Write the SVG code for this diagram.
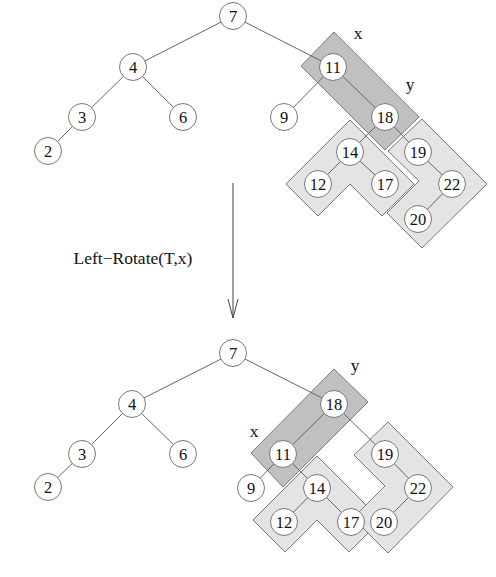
<svg xmlns="http://www.w3.org/2000/svg" width="496" height="577" viewBox="0 0 496 577">
<defs>
<style>
.dark{fill:#c0c0c0;stroke:#7a7a7a;stroke-width:1}
.light{fill:#e4e4e4;stroke:#7a7a7a;stroke-width:1}
.edge{stroke:#666;stroke-width:1;fill:none}
.node circle{fill:#fff;stroke:#777;stroke-width:1}
.node text,.lbl{font-family:"Liberation Serif","Times New Roman",serif;font-size:16.5px;fill:#111;text-anchor:middle}
.big{font-size:17.5px}
</style>
<marker id="arr" markerWidth="22" markerHeight="12" refX="20" refY="6" orient="auto" markerUnits="userSpaceOnUse">
<path d="M1,1 L20,6 L1,11" fill="none" stroke="#444" stroke-width="1"/>
</marker>
</defs>
<rect width="496" height="577" fill="#fff"/>

<g id="shapes">
<polygon class="dark" points="334,32 419,117 385,150 301,66"/>
<polygon class="light" points="350,120 414,184 382,216 350,184 318,216 286,184"/>
<polygon class="light" points="422,119 487,184 422,248 387,213 419,181 388,151"/>
<polygon class="dark" points="334,369 368,402 283,487 251,453"/>
<polygon class="light" points="317,456 381,520 349,552 317,520 285,552 253,520"/>
<polygon class="light" points="388,422 453,487 388,553 353,518 385,486 354,455"/>
</g>

<g id="connectors">
<line class="edge" x1="233" y1="16" x2="133" y2="67"/>
<line class="edge" x1="233" y1="16" x2="333" y2="67"/>
<line class="edge" x1="133" y1="67" x2="82" y2="117"/>
<line class="edge" x1="133" y1="67" x2="183" y2="117"/>
<line class="edge" x1="82" y1="117" x2="48" y2="151"/>
<line class="edge" x1="333" y1="67" x2="284" y2="117"/>
<line class="edge" x1="333" y1="67" x2="385" y2="117"/>
<line class="edge" x1="385" y1="117" x2="350" y2="152"/>
<line class="edge" x1="385" y1="117" x2="418" y2="152"/>
<line class="edge" x1="350" y1="152" x2="318" y2="184"/>
<line class="edge" x1="350" y1="152" x2="385" y2="184"/>
<line class="edge" x1="418" y1="152" x2="452" y2="184"/>
<line class="edge" x1="452" y1="184" x2="418" y2="219"/>

<line class="edge" x1="233" y1="353" x2="132" y2="404"/>
<line class="edge" x1="233" y1="353" x2="334" y2="404"/>
<line class="edge" x1="132" y1="404" x2="82" y2="454"/>
<line class="edge" x1="132" y1="404" x2="183" y2="454"/>
<line class="edge" x1="82" y1="454" x2="48" y2="487"/>
<line class="edge" x1="334" y1="404" x2="283" y2="454"/>
<line class="edge" x1="334" y1="404" x2="385" y2="454"/>
<line class="edge" x1="283" y1="454" x2="251" y2="488"/>
<line class="edge" x1="283" y1="454" x2="317" y2="488"/>
<line class="edge" x1="317" y1="488" x2="284" y2="522"/>
<line class="edge" x1="317" y1="488" x2="351" y2="522"/>
<line class="edge" x1="385" y1="454" x2="418" y2="488"/>
<line class="edge" x1="418" y1="488" x2="384" y2="522"/>

<line x1="233" y1="183" x2="233" y2="318" stroke="#444" stroke-width="1" marker-end="url(#arr)"/>
</g>

<g id="t7"   class="node"><circle cx="233" cy="16" r="13.5"/><text x="233" y="22">7</text></g>
<g id="t4"   class="node"><circle cx="133" cy="67" r="13.5"/><text x="133" y="73">4</text></g>
<g id="t3"   class="node"><circle cx="82" cy="117" r="13.5"/><text x="82" y="123">3</text></g>
<g id="t6"   class="node"><circle cx="183" cy="117" r="13.5"/><text x="183" y="123">6</text></g>
<g id="t2"   class="node"><circle cx="48" cy="151" r="13.5"/><text x="48" y="157">2</text></g>
<g id="t11"  class="node"><circle cx="333" cy="67" r="13.5"/><text x="333" y="73">11</text></g>
<g id="t9"   class="node"><circle cx="284" cy="117" r="13.5"/><text x="284" y="123">9</text></g>
<g id="t18"  class="node"><circle cx="385" cy="117" r="13.5"/><text x="385" y="123">18</text></g>
<g id="t14"  class="node"><circle cx="350" cy="152" r="13.5"/><text x="350" y="158">14</text></g>
<g id="t12"  class="node"><circle cx="318" cy="184" r="13.5"/><text x="318" y="190">12</text></g>
<g id="t17"  class="node"><circle cx="385" cy="184" r="13.5"/><text x="385" y="190">17</text></g>
<g id="t19"  class="node"><circle cx="418" cy="152" r="13.5"/><text x="418" y="158">19</text></g>
<g id="t22"  class="node"><circle cx="452" cy="184" r="13.5"/><text x="452" y="190">22</text></g>
<g id="t20"  class="node"><circle cx="418" cy="219" r="13.5"/><text x="418" y="225">20</text></g>

<g id="b7"   class="node"><circle cx="233" cy="353" r="13.5"/><text x="233" y="359">7</text></g>
<g id="b4"   class="node"><circle cx="132" cy="404" r="13.5"/><text x="132" y="410">4</text></g>
<g id="b3"   class="node"><circle cx="82" cy="454" r="13.5"/><text x="82" y="460">3</text></g>
<g id="b6"   class="node"><circle cx="183" cy="454" r="13.5"/><text x="183" y="460">6</text></g>
<g id="b2"   class="node"><circle cx="48" cy="487" r="13.5"/><text x="48" y="493">2</text></g>
<g id="b18"  class="node"><circle cx="334" cy="404" r="13.5"/><text x="334" y="410">18</text></g>
<g id="b11"  class="node"><circle cx="283" cy="454" r="13.5"/><text x="283" y="460">11</text></g>
<g id="b9"   class="node"><circle cx="251" cy="488" r="13.5"/><text x="251" y="494">9</text></g>
<g id="b14"  class="node"><circle cx="317" cy="488" r="13.5"/><text x="317" y="494">14</text></g>
<g id="b12"  class="node"><circle cx="284" cy="522" r="13.5"/><text x="284" y="528">12</text></g>
<g id="b17"  class="node"><circle cx="351" cy="522" r="13.5"/><text x="351" y="528">17</text></g>
<g id="b19"  class="node"><circle cx="385" cy="454" r="13.5"/><text x="385" y="460">19</text></g>
<g id="b22"  class="node"><circle cx="418" cy="488" r="13.5"/><text x="418" y="494">22</text></g>
<g id="b20"  class="node"><circle cx="384" cy="522" r="13.5"/><text x="384" y="528">20</text></g>

<g id="labels">
<text class="lbl big" x="358" y="39">x</text>
<text class="lbl big" x="410" y="90">y</text>
<text class="lbl big" x="355" y="371">y</text>
<text class="lbl big" x="254" y="437">x</text>
<text class="lbl big" x="133" y="264">Left−Rotate(T,x)</text>
</g>
</svg>
